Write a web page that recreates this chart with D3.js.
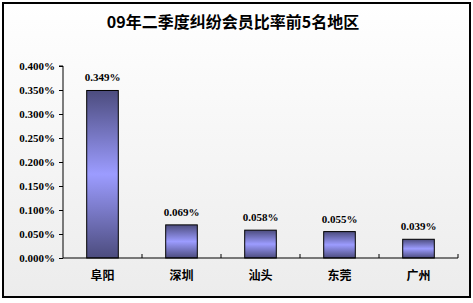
<!DOCTYPE html>
<html>
<head>
<meta charset="utf-8">
<script src="https://cdn.jsdelivr.net/npm/d3@7"></script>
<style>
  html, body { margin: 0; padding: 0; background: #fff; }
  svg { display: block; }
</style>
</head>
<body>
<svg id="chart" width="473" height="303"></svg>
<script>
// Member dispute rate, top 5 regions, Q2 2009
const chartTitle = "09年二季度纠纷会员比率前5名地区";
const categories = ["阜阳", "深圳", "汕头", "东莞", "广州"];
const values = [0.349, 0.069, 0.058, 0.055, 0.039];
const valueLabels = ["0.349%", "0.069%", "0.058%", "0.055%", "0.039%"];
const yTicks = [0, 0.05, 0.1, 0.15, 0.2, 0.25, 0.3, 0.35, 0.4];

const W = 473, H = 303;
const margin = { left: 63, right: 15, top: 66, bottom: 45 };
const svg = d3.select("#chart");
const defs = svg.append("defs");

// soft vertical background wash
const bg = defs.append("linearGradient").attr("id", "bgGrad")
  .attr("x1", 0).attr("y1", 0).attr("x2", 0).attr("y2", 1);
bg.append("stop").attr("offset", "0%").attr("stop-color", "#ffffff");
bg.append("stop").attr("offset", "100%").attr("stop-color", "#ececec");

// bar fill: dark at the ends, light in the middle
const barGrad = defs.append("linearGradient").attr("id", "barGrad")
  .attr("x1", 0).attr("y1", 0).attr("x2", 0).attr("y2", 1);
barGrad.append("stop").attr("offset", "0%").attr("stop-color", "#4c4c7e");
barGrad.append("stop").attr("offset", "50%").attr("stop-color", "#9c9cff");
barGrad.append("stop").attr("offset", "100%").attr("stop-color", "#4c4c7e");

svg.append("rect")
  .attr("x", 3).attr("y", 3).attr("width", W - 6).attr("height", H - 9)
  .attr("fill", "url(#bgGrad)")
  .attr("stroke", "#000").attr("stroke-width", 2);

svg.append("text")
  .attr("x", 233).attr("y", 28)
  .attr("text-anchor", "middle")
  .attr("font-family", "'Noto Sans CJK SC', sans-serif")
  .attr("font-weight", "bold")
  .attr("font-size", 16)
  .text(chartTitle);

const x = d3.scaleBand()
  .domain(categories)
  .range([margin.left, W - margin.right])
  .paddingInner(0.6).paddingOuter(0.3);

const y = d3.scaleLinear()
  .domain([0, 0.4])
  .range([H - margin.bottom, margin.top]);

// y axis
const yAxis = svg.append("g")
  .attr("transform", `translate(${margin.left},0)`)
  .call(d3.axisLeft(y).tickValues(yTicks).tickSize(4).tickPadding(4)
    .tickFormat(d => d.toFixed(3) + "%"));
yAxis.select(".domain").attr("stroke", "#000").attr("d", `M-4,${y(0.4)}H0V${y(0)}`);
yAxis.selectAll(".tick line").attr("stroke", "#000");
yAxis.selectAll(".tick text")
  .attr("font-family", "'Liberation Serif', 'Times New Roman', serif")
  .attr("font-weight", "bold")
  .attr("font-size", 11)
  .attr("fill", "#000");

// bars
svg.append("g").selectAll("rect")
  .data(values)
  .join("rect")
  .attr("x", (d, i) => x(categories[i]))
  .attr("y", d => y(d))
  .attr("width", x.bandwidth())
  .attr("height", d => y(0) - y(d))
  .attr("fill", "url(#barGrad)")
  .attr("stroke", "#000")
  .attr("stroke-width", 1);

// value labels
svg.append("g").selectAll("text")
  .data(values)
  .join("text")
  .attr("x", (d, i) => x(categories[i]) + x.bandwidth() / 2)
  .attr("y", d => y(d) - 9)
  .attr("text-anchor", "middle")
  .attr("font-family", "'Liberation Serif', 'Times New Roman', serif")
  .attr("font-weight", "bold")
  .attr("font-size", 11)
  .text((d, i) => valueLabels[i]);

// x axis with ticks between categories
const step = (W - margin.right - margin.left) / categories.length;
const xAxisG = svg.append("g").attr("transform", `translate(0,${y(0)})`);
xAxisG.append("line")
  .attr("x1", margin.left).attr("x2", W - margin.right)
  .attr("stroke", "#000");
xAxisG.selectAll("line.tick")
  .data(d3.range(1, categories.length + 1))
  .join("line").attr("class", "tick")
  .attr("x1", i => margin.left + i * step).attr("x2", i => margin.left + i * step)
  .attr("y1", 0).attr("y2", -4)
  .attr("stroke", "#000");
xAxisG.selectAll("text")
  .data(categories)
  .join("text")
  .attr("x", d => x(d) + x.bandwidth() / 2)
  .attr("y", 22)
  .attr("text-anchor", "middle")
  .attr("font-family", "'Noto Sans CJK SC', sans-serif")
  .attr("font-weight", "bold")
  .attr("font-size", 12)
  .text(d => d);
</script>
</body>
</html>
